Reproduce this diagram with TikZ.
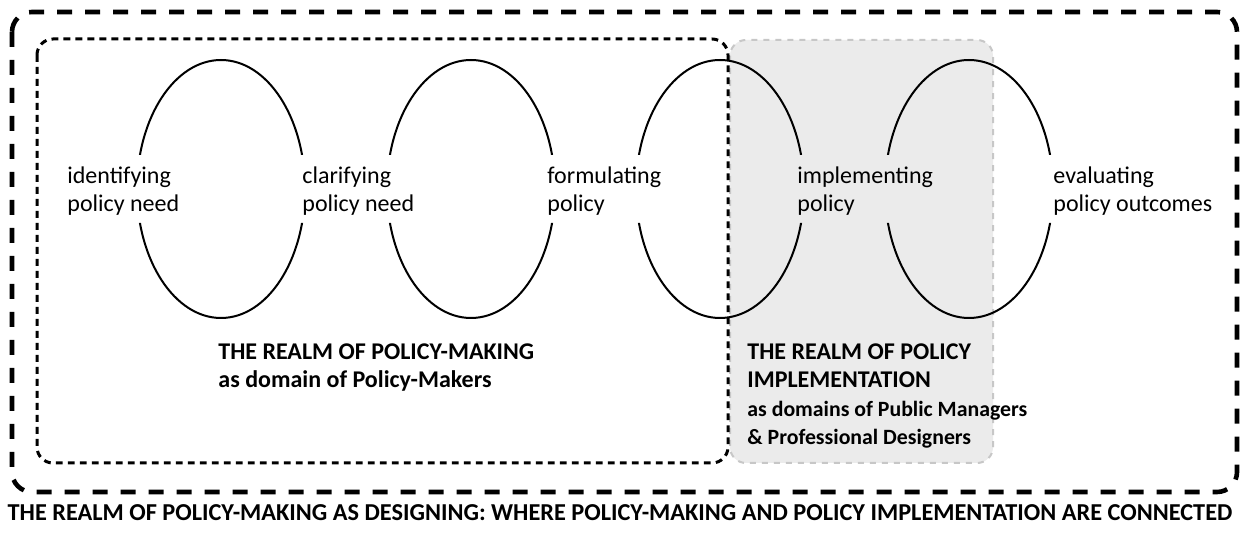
\documentclass[tikz,border=0pt]{standalone}
\usepackage{fontspec}
\setmainfont{Carlito}
\usepackage{xcolor}
\usetikzlibrary{positioning}

\begin{document}
\begin{tikzpicture}[
    x=0.5pt, y=-0.5pt,
    realmbox/.style={draw=black, line width=2.3pt, dash pattern=on 7.5pt off 6.5pt, rounded corners=10pt},
    makerbox/.style={draw=black, line width=1.5pt, dash pattern=on 3.4pt off 2.6pt, rounded corners=8pt},
    implbox/.style={draw=black!22, fill=black!8, line width=1pt, dash pattern=on 3pt off 3pt, rounded corners=8pt},
    stage/.style={draw=black, line width=1pt},
    steplabel/.style={anchor=west, align=left, inner sep=0pt, font=\fontsize{12}{14}\selectfont},
    realmlabel/.style={anchor=north west, align=left, inner sep=0pt, font=\bfseries\fontsize{12}{14.3}\selectfont}
]

\useasboundingbox (0,0) rectangle (1241,533);

% Realms: implementation (grey), policy-making (dotted), designing (outer)
\draw[implbox] (730,40) rectangle (993,463);
\draw[makerbox] (37,39) rectangle (728,463);
\draw[realmbox] (12,12) rectangle (1237,492);

% Policy cycle: ellipses broken where the labels sit
\begin{scope}
  \clip (0,0) rectangle (1241,155) (0,223) rectangle (1241,533);
  \foreach \cx in {221,471,720,969}
    \draw[stage] (\cx,189) ellipse (84 and 129);
\end{scope}

% Stage labels
\node[steplabel] (identify) at (67,191) {identifying\\policy need};
\node[steplabel] (clarify) at (302,191) {clarifying\\policy need};
\node[steplabel] (formulate) at (547,191) {formulating\\policy};
\node[steplabel] (implement) at (797,191) {implementing\\policy};
\node[steplabel] (evaluate) at (1053,191) {evaluating\\policy outcomes};

% Realm labels
\node[realmlabel] (making) at (218,343) {THE REALM OF POLICY-MAKING\\as domain of Policy-Makers};
\node[realmlabel] (implementing) at (747,343) {THE REALM OF POLICY\\IMPLEMENTATION\\{\fontsize{10.9}{14.2}\selectfont as domains of Public Managers}\\{\fontsize{10.9}{14.2}\selectfont \& Professional Designers}};

% Caption
\node[font=\bfseries\fontsize{12.15}{14}\selectfont, inner sep=0pt] (caption) at (620,513) {THE REALM OF POLICY-MAKING AS DESIGNING: WHERE POLICY-MAKING AND POLICY IMPLEMENTATION ARE CONNECTED};

\end{tikzpicture}
\end{document}
